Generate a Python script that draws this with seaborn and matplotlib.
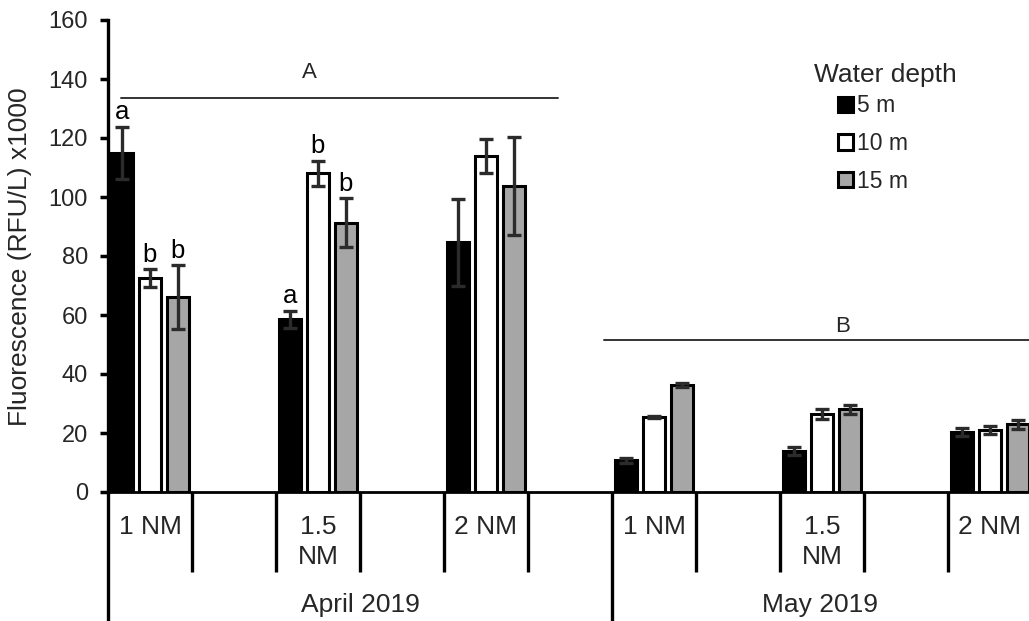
import numpy as np
import pandas as pd
import matplotlib
matplotlib.use("Agg")
import matplotlib.pyplot as plt
import seaborn as sns
from matplotlib.patches import Patch
from matplotlib.transforms import blended_transform_factory

# ---------------- data ----------------
months = ["April 2019", "May 2019"]
distances = ["1 NM", "1.5\nNM", "2 NM"]
depths = ["5 m", "10 m", "15 m"]

apr_5m = [115.0, 58.6, 84.7]
apr_10m = [72.5, 108.0, 113.9]
apr_15m = [66.1, 91.2, 103.7]
may_5m = [10.8, 13.9, 20.3]
may_10m = [25.4, 26.4, 21.0]
may_15m = [36.3, 28.0, 23.0]

apr_5m_err = [8.8, 2.9, 14.7]
apr_10m_err = [3.0, 4.2, 5.8]
apr_15m_err = [10.8, 8.3, 16.6]
may_5m_err = [0.8, 1.5, 1.3]
may_10m_err = [0.3, 1.8, 1.3]
may_15m_err = [0.7, 1.5, 1.5]

apr_5m_letters = ["a", "a", ""]
apr_10m_letters = ["b", "b", ""]
apr_15m_letters = ["b", "b", ""]
may_letters = ["", "", ""]

month_groups = ["A", "B"]
colors = ["#000000", "#FFFFFF", "#A6A6A6"]

# ---------------- long table ----------------
values = {("April 2019", "5 m"): (apr_5m, apr_5m_err, apr_5m_letters),
          ("April 2019", "10 m"): (apr_10m, apr_10m_err, apr_10m_letters),
          ("April 2019", "15 m"): (apr_15m, apr_15m_err, apr_15m_letters),
          ("May 2019", "5 m"): (may_5m, may_5m_err, may_letters),
          ("May 2019", "10 m"): (may_10m, may_10m_err, may_letters),
          ("May 2019", "15 m"): (may_15m, may_15m_err, may_letters)}

slot_order = []
for m in months:
    for j, d in enumerate(distances):
        slot_order.append(f"{m}|{d}")
        slot_order.append(f"{m}|gap{j}")

rows = []
for (m, dep), (v, e, l) in values.items():
    for j, d in enumerate(distances):
        rows.append(dict(month=m, dist=d, slot=f"{m}|{d}", depth=dep,
                         value=v[j], err=e[j], letter=l[j]))
df = pd.DataFrame(rows)
df["slot_idx"] = df["slot"].map({s: i for i, s in enumerate(slot_order)})

# ---------------- figure ----------------
sns.set_theme(style="white")
plt.rcParams["font.family"] = ["Liberation Sans", "DejaVu Sans"]

W, H = 1029, 621
fig = plt.figure(figsize=(W / 100, H / 100), dpi=100)
ax = fig.add_axes([108 / W, 129 / H, 1008 / W, 472 / H])

sns.barplot(data=df, x="slot", y="value", hue="depth", order=slot_order,
            hue_order=depths, palette=colors, width=1.0, gap=0.18,
            edgecolor="black", linewidth=2.2, errorbar=None, legend=False,
            saturation=1, ax=ax)

# error bars + letters
for i, dep in enumerate(depths):
    bars = sorted(ax.containers[i], key=lambda b: b.get_x())
    sub = df[df["depth"] == dep].sort_values("slot_idx")
    for bar, (_, r) in zip(bars, sub.iterrows()):
        xc = bar.get_x() + bar.get_width() / 2
        h = bar.get_height()
        ax.errorbar(xc, h, yerr=r["err"], fmt="none", ecolor="#2b2b2b",
                    elinewidth=2.4, capsize=5, capthick=2.4, zorder=4)
        if r["letter"]:
            ax.annotate(r["letter"], (xc, h + r["err"]), xytext=(0, 5.5),
                        textcoords="offset points", ha="center",
                        va="baseline", fontsize=18.5, color="black")

ax.set_xlim(-0.5, len(slot_order) - 0.5)
ax.set_ylim(0, 160)
ax.set_yticks(np.arange(0, 161, 20))
ax.tick_params(axis="y", labelsize=17, length=6, width=2.5, color="black",
               direction="out", pad=8.5, left=True)
ax.set_xticks([])
ax.set_xlabel("")
ax.set_ylabel("")
for s in ["top", "right"]:
    ax.spines[s].set_visible(False)
ax.spines["left"].set_linewidth(2.4)
ax.spines["left"].set_color("black")
ax.spines["bottom"].set_linewidth(2.0)
ax.spines["bottom"].set_color("black")
ax.grid(False)

fig.text(20 / W, 1 - 257 / H, "Fluorescence (RFU/L) x1000",
         rotation=90, ha="center", va="center", fontsize=19)

# hierarchical category axis
tr = blended_transform_factory(ax.transData, ax.transAxes)
short_end = -80 / 472
long_end = -140 / 472
n = len(slot_order)
for k in range(n + 1):
    xb = k - 0.5
    end = long_end if k % 6 == 0 else short_end
    ax.plot([xb, xb], [0, end], transform=tr, color="black", lw=2.4,
            clip_on=False, solid_capstyle="butt", zorder=5)

for i, s in enumerate(slot_order):
    m, d = s.split("|")
    if d.startswith("gap"):
        continue
    ax.text(i, -(515 - 492) / 472, d, transform=tr, ha="center", va="top",
            fontsize=19, linespacing=1.3)

x_right = ax.transData.inverted().transform((fig.bbox.width, 0))[0]
for mi, m in enumerate(months):
    lo = mi * 6 - 0.5
    hi = min(lo + 6, x_right)
    ax.text((lo + hi) / 2, -(612 - 492) / 472, m, transform=tr,
            ha="center", va="baseline", fontsize=19)

# group significance annotations
ax.plot([-0.345, 4.857], [133.6, 133.6], color="#333333", lw=1.4,
        clip_on=False)
ax.text(1.9, 138.5, month_groups[0], ha="center", va="bottom", fontsize=16)
ax.plot([5.405, 11.5], [51.5, 51.5], color="#333333", lw=1.4,
        clip_on=False)
ax.text(8.25, 52.5, month_groups[1], ha="center", va="bottom", fontsize=16)

# legend
fig.text(885 / W, 1 - 75 / H, "Water depth", ha="center", va="center",
         fontsize=19)
handles = [Patch(facecolor=c, edgecolor="black", linewidth=2.2, label=d)
           for c, d in zip(colors, depths)]
leg = fig.legend(handles=handles, loc="upper left",
                 bbox_to_anchor=(838 / W, 1 - 94.5 / H), frameon=False,
                 fontsize=16.5, handlelength=0.65,
                 handleheight=0.65, handletextpad=0.2, labelspacing=0.64,
                 borderpad=0, borderaxespad=0)

fig.savefig("out.png", dpi=100)
